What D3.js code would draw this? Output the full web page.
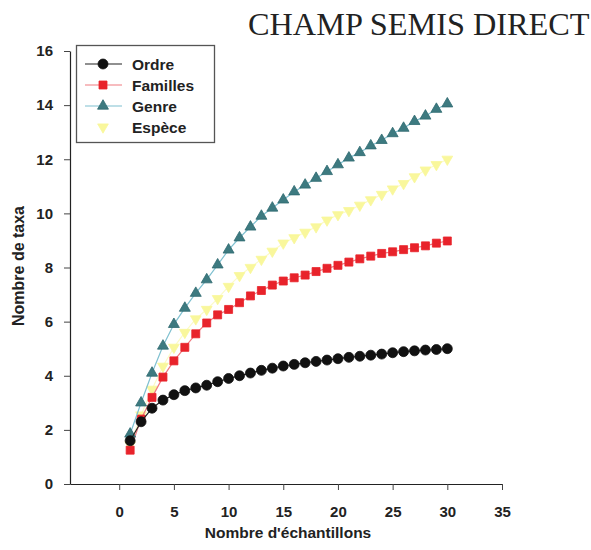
<!DOCTYPE html>
<html>
<head>
<meta charset="utf-8">
<script src="https://cdn.jsdelivr.net/npm/d3@7"></script>
<style>
  html, body { margin: 0; padding: 0; background: #fff; }
  svg { display: block; }
</style>
</head>
<body>
<svg id="chart" width="591" height="550"></svg>
<script>
// Taxon accumulation curves — number of taxa vs number of samples
const samples = d3.range(1, 31);
const ordre = [1.6, 2.3, 2.8, 3.1, 3.3, 3.45, 3.55, 3.65, 3.78, 3.9, 4.0, 4.1, 4.2, 4.28, 4.36,
               4.42, 4.48, 4.53, 4.58, 4.63, 4.68, 4.72, 4.76, 4.8, 4.85, 4.89, 4.92, 4.95, 4.97, 5.0];
const familles = [1.25, 2.4, 3.2, 3.95, 4.55, 5.05, 5.55, 5.95, 6.25, 6.45, 6.7, 6.95, 7.15, 7.35, 7.5,
                  7.62, 7.72, 7.85, 7.97, 8.08, 8.2, 8.32, 8.42, 8.52, 8.58, 8.66, 8.73, 8.8, 8.9, 8.98];
const genre = [1.85, 3.0, 4.1, 5.1, 5.9, 6.5, 7.05, 7.55, 8.1, 8.65, 9.1, 9.5, 9.9, 10.2, 10.5,
               10.8, 11.05, 11.3, 11.55, 11.8, 12.05, 12.25, 12.5, 12.7, 12.95, 13.15, 13.4, 13.6, 13.85, 14.05];
const espece = [1.45, 2.55, 3.5, 4.35, 5.05, 5.6, 6.1, 6.45, 6.85, 7.3, 7.7, 8.0, 8.3, 8.6, 8.9,
                9.1, 9.3, 9.5, 9.75, 9.95, 10.1, 10.3, 10.5, 10.7, 10.9, 11.1, 11.35, 11.6, 11.8, 12.0];
const seriesNames = ["Ordre", "Familles", "Genre", "Espèce"];
const xTicks = [0, 5, 10, 15, 20, 25, 30, 35];
const yTicks = [0, 2, 4, 6, 8, 10, 12, 14, 16];

const series = [
  { name: seriesNames[0], values: ordre,    shape: d3.symbolCircle,   size: 78, fill: "#111", stroke: "#111", line: "#222" },
  { name: seriesNames[1], values: familles, shape: d3.symbolSquare,   size: 64, fill: "#e8232b", stroke: "#e8232b", line: "#f07a80" },
  { name: seriesNames[2], values: genre,    shape: d3.symbolTriangle, size: 52, fill: "#3d7a80", stroke: "#2f6a70", line: "#7fc0d0" },
  { name: seriesNames[3], values: espece,   shape: d3.symbolTriangle, size: 50, fill: "#f9f79c", stroke: "#f9f79c", line: "#fcfbc8", flip: true }
];

const svg = d3.select("#chart");
const font = "'Liberation Sans', Arial, sans-serif";

const x = d3.scaleLinear().domain([-4.5, 35]).range([70, 502]);
const y = d3.scaleLinear().domain([0, 16]).range([484, 51]);

// Title
svg.append("text")
  .attr("x", 248).attr("y", 35)
  .attr("font-family", "'Liberation Serif', 'Times New Roman', serif")
  .attr("font-size", 32.3).attr("fill", "#222")
  .text("CHAMP SEMIS DIRECT");

// Axes
const xAxis = svg.append("g").attr("transform", `translate(0,${y(0)})`)
  .call(d3.axisBottom(x).tickValues(xTicks).tickSize(6).tickPadding(16).tickSizeOuter(0));
const yAxis = svg.append("g").attr("transform", `translate(${x.range()[0]},0)`)
  .call(d3.axisLeft(y).tickValues(yTicks).tickSize(6).tickPadding(11).tickSizeOuter(0));
[xAxis, yAxis].forEach(g => {
  g.select(".domain").attr("stroke", "#222").attr("stroke-width", 1.2);
  g.selectAll(".tick line").attr("stroke", "#444");
  g.selectAll(".tick text").attr("font-family", font).attr("font-weight", "bold")
    .attr("font-size", 15).attr("fill", "#222");
});

// Axis titles
svg.append("text")
  .attr("x", 288).attr("y", 538).attr("text-anchor", "middle")
  .attr("font-family", font).attr("font-weight", "bold").attr("font-size", 15.5).attr("fill", "#222")
  .text("Nombre d'échantillons");
svg.append("text")
  .attr("transform", "translate(24,266) rotate(-90)").attr("text-anchor", "middle")
  .attr("font-family", font).attr("font-weight", "bold").attr("font-size", 16).attr("fill", "#222")
  .text("Nombre de taxa");

// Curves and markers (Espèce first so the darker series sit on top)
const line = d3.line().x((d, i) => x(samples[i])).y(d => y(d));
const drawOrder = [3, 1, 2, 0];
drawOrder.forEach(k => {
  const s = series[k];
  const g = svg.append("g");
  g.append("path").attr("d", line(s.values))
    .attr("fill", "none").attr("stroke", s.line).attr("stroke-width", 1.2);
  g.selectAll("path.m").data(s.values).join("path").attr("class", "m")
    .attr("d", d3.symbol().type(s.shape).size(s.size))
    .attr("transform", (d, i) => `translate(${x(samples[i])},${y(d)})${s.flip ? " rotate(180)" : ""}`)
    .attr("fill", s.fill).attr("stroke", s.stroke).attr("stroke-width", 0.8);
});

// Legend
const lg = svg.append("g");
lg.append("rect").attr("x", 76.5).attr("y", 45.5).attr("width", 138).attr("height", 97)
  .attr("fill", "#fff").attr("stroke", "#555").attr("stroke-width", 1.3);
series.forEach((s, i) => {
  const cy = 64 + i * 21;
  const row = lg.append("g");
  if (i < 3) {
    row.append("line").attr("x1", 85).attr("x2", 122).attr("y1", cy).attr("y2", cy)
      .attr("stroke", s.line).attr("stroke-width", 1.2);
  }
  row.append("path").attr("d", d3.symbol().type(s.shape).size(s.size))
    .attr("transform", `translate(103,${cy})${s.flip ? " rotate(180)" : ""}`)
    .attr("fill", s.fill).attr("stroke", s.stroke).attr("stroke-width", 0.8);
  row.append("text").attr("x", 132).attr("y", cy + 5.5)
    .attr("font-family", font).attr("font-weight", "bold").attr("font-size", 15.5).attr("fill", "#222")
    .text(s.name);
});
</script>
</body>
</html>
